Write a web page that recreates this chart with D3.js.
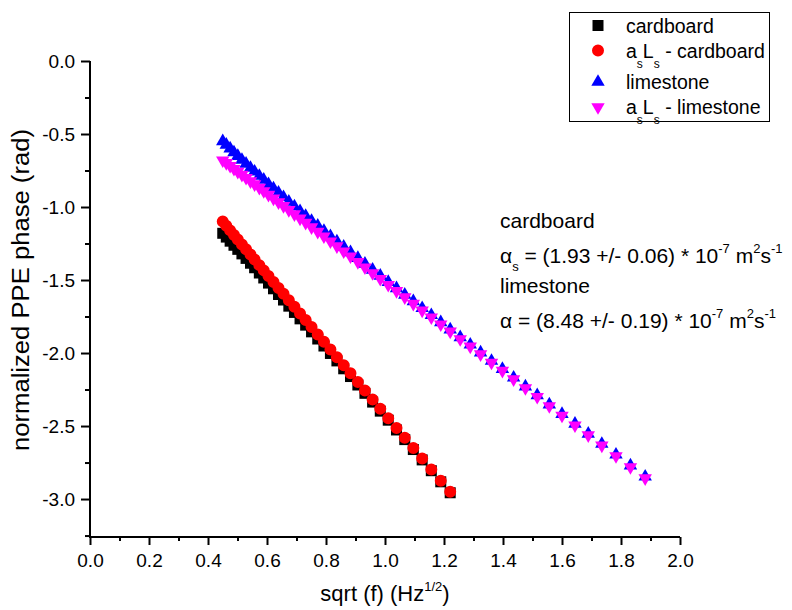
<!DOCTYPE html>
<html lang="en">
<head>
  <meta charset="utf-8">
  <title>PPE phase vs sqrt(f)</title>
  <script src="https://d3js.org/d3.v7.min.js"></script>
  <style>
    body {
      margin: 0;
      background: #fff;
    }
    svg {
      display: block;
      font-family: "Liberation Sans", Arial, Helvetica, sans-serif;
    }
    .tick text {
      font-size: 19px;
      fill: #000;
    }
    .tick line, .axis-line {
      stroke: #000;
      stroke-width: 2px;
    }
  </style>
</head>
<body>
  <div id="chart"></div>
  <script>
    // sqrt(f) values (same frequencies for all samples)
    const sqrtF = [0.450, 0.462, 0.475, 0.488, 0.501, 0.515, 0.529, 0.544, 0.558, 0.574,
                   0.589, 0.605, 0.622, 0.639, 0.656, 0.674, 0.693, 0.712, 0.731, 0.751,
                   0.772, 0.793, 0.815, 0.837, 0.860, 0.883, 0.908, 0.932, 0.958, 0.984,
                   1.011, 1.039, 1.067, 1.096, 1.126, 1.157, 1.189, 1.221, 1.255, 1.289,
                   1.324, 1.361, 1.398, 1.436, 1.476, 1.516, 1.557, 1.600, 1.644, 1.689,
                   1.735, 1.783, 1.832, 1.882];

    // normalized phase (rad)
    const cardboard = [-1.180, -1.206, -1.234, -1.262, -1.290, -1.321, -1.352, -1.385, -1.416, -1.452,
                       -1.486, -1.521, -1.560, -1.599, -1.637, -1.679, -1.722, -1.766, -1.809, -1.855,
                       -1.904, -1.952, -2.003, -2.054, -2.108, -2.161, -2.219, -2.276, -2.336, -2.398,
                       -2.460, -2.527, -2.593, -2.661, -2.732, -2.806, -2.882, -2.957];
    const asLsCardboard = [-1.100, -1.129, -1.160, -1.191, -1.222, -1.256, -1.290, -1.326, -1.359, -1.398,
                           -1.434, -1.472, -1.513, -1.554, -1.594, -1.638, -1.683, -1.729, -1.774, -1.822,
                           -1.873, -1.923, -1.976, -2.029, -2.084, -2.139, -2.199, -2.257, -2.319, -2.382,
                           -2.446, -2.514, -2.581, -2.650, -2.722, -2.797, -2.874, -2.950];
    const limestone = [-0.550, -0.574, -0.600, -0.626, -0.651, -0.678, -0.704, -0.732, -0.758, -0.787,
                       -0.814, -0.844, -0.873, -0.903, -0.933, -0.964, -0.997, -1.029, -1.061, -1.095,
                       -1.129, -1.164, -1.201, -1.236, -1.273, -1.310, -1.350, -1.389, -1.430, -1.471,
                       -1.514, -1.557, -1.601, -1.646, -1.693, -1.741, -1.790, -1.839, -1.892, -1.943,
                       -1.997, -2.054, -2.110, -2.169, -2.230, -2.290, -2.353, -2.418, -2.485, -2.553,
                       -2.623, -2.696, -2.771, -2.847];
    const asLsLimestone = [-0.680, -0.698, -0.718, -0.738, -0.758, -0.779, -0.800, -0.823, -0.844, -0.868,
                           -0.891, -0.916, -0.941, -0.967, -0.993, -1.020, -1.049, -1.078, -1.107, -1.138,
                           -1.169, -1.201, -1.235, -1.268, -1.303, -1.338, -1.376, -1.413, -1.452, -1.492,
                           -1.533, -1.575, -1.618, -1.662, -1.708, -1.755, -1.803, -1.852, -1.904, -1.955,
                           -2.008, -2.065, -2.121, -2.179, -2.240, -2.300, -2.363, -2.428, -2.495, -2.563,
                           -2.633, -2.706, -2.781, -2.857];

    const xTicks = [0, 0.2, 0.4, 0.6, 0.8, 1.0, 1.2, 1.4, 1.6, 1.8, 2.0];
    const xMinor = [0.1, 0.3, 0.5, 0.7, 0.9, 1.1, 1.3, 1.5, 1.7, 1.9];
    const yTicks = [0, -0.5, -1.0, -1.5, -2.0, -2.5, -3.0];
    const yMinor = [-0.25, -0.75, -1.25, -1.75, -2.25, -2.75, -3.25];

    const width = 792, height = 610;

    const svg = d3.select("#chart")
      .append("svg")
      .attr("width", width)
      .attr("height", height);

    const x = d3.scaleLinear().domain([0, 2]).range([90, 680]);
    const y = d3.scaleLinear().domain([-3.26, 0]).range([537, 61]);
    const fmt = d => d.toFixed(1);

    // axes (major + minor ticks)
    const xAxisG = svg.append("g").attr("transform", `translate(0,${y.range()[0]})`);
    xAxisG.call(d3.axisBottom(x).tickValues(xTicks).tickSize(8).tickPadding(9).tickFormat(fmt));
    xAxisG.append("g").call(d3.axisBottom(x).tickValues(xMinor).tickSize(4).tickFormat(""));
    xAxisG.selectAll(".domain").remove();

    const yAxisG = svg.append("g").attr("transform", `translate(${x.range()[0]},0)`);
    yAxisG.call(d3.axisLeft(y).tickValues(yTicks).tickSize(9).tickPadding(6).tickFormat(fmt));
    yAxisG.append("g").call(d3.axisLeft(y).tickValues(yMinor).tickSize(5).tickFormat(""));
    yAxisG.selectAll(".domain").remove();

    svg.append("line").attr("class", "axis-line")
      .attr("x1", x.range()[0] - 1).attr("x2", x.range()[1])
      .attr("y1", y.range()[0]).attr("y2", y.range()[0]);
    svg.append("line").attr("class", "axis-line")
      .attr("x1", x.range()[0]).attr("x2", x.range()[0])
      .attr("y1", y.range()[1]).attr("y2", y.range()[0] + 1);

    // axis titles
    const xTitle = svg.append("text")
      .attr("x", x(1.0)).attr("y", 601)
      .attr("text-anchor", "middle")
      .style("font-size", "22px");
    xTitle.append("tspan").text("sqrt (f) (Hz");
    xTitle.append("tspan").attr("dy", -10).style("font-size", "13px").text("1/2");
    xTitle.append("tspan").attr("dy", 10).text(")");

    svg.append("text")
      .attr("transform", "translate(29,290) rotate(-90)")
      .attr("text-anchor", "middle")
      .attr("textLength", 322)
      .attr("lengthAdjust", "spacingAndGlyphs")
      .style("font-size", "23px")
      .text("normalized PPE phase (rad)");

    // series
    const series = [
      {name: "cardboard", values: cardboard, color: "#000000", symbol: d3.symbolSquare, size: 121, rot: 0},
      {name: "asLs-cardboard", values: asLsCardboard, color: "#ff0000", symbol: d3.symbolCircle, size: 113, rot: 0},
      {name: "limestone", values: limestone, color: "#0000ff", symbol: d3.symbolTriangle, size: 78, rot: 0},
      {name: "asLs-limestone", values: asLsLimestone, color: "#ff00ff", symbol: d3.symbolTriangle, size: 78, rot: 180}
    ];

    series.forEach(s => {
      const path = d3.symbol().type(s.symbol).size(s.size)();
      svg.append("g")
        .selectAll("path")
        .data(s.values.map((v, i) => [sqrtF[i], v]))
        .join("path")
        .attr("d", path)
        .attr("fill", s.color)
        .attr("transform", d => `translate(${x(d[0])},${y(d[1])}) rotate(${s.rot})`);
    });

    // legend
    const legend = svg.append("g");
    legend.append("rect")
      .attr("x", 569.5).attr("y", 12.5)
      .attr("width", 200).attr("height", 109)
      .attr("fill", "#fff").attr("stroke", "#000").attr("stroke-width", 1);

    const legendRows = [
      {y: 25.5, text: [["cardboard", 0]]},
      {y: 50.5, text: [["a", 0], ["s", 1], ["L", 0], ["s", 1], [" - cardboard", 0]]},
      {y: 82, text: [["limestone", 0]]},
      {y: 107, text: [["a", 0], ["s", 1], ["L", 0], ["s", 1], [" - limestone", 0]]}
    ];
    legendRows.forEach((row, i) => {
      const s = series[i];
      legend.append("path")
        .attr("d", d3.symbol().type(s.symbol).size(s.size)())
        .attr("fill", s.color)
        .attr("transform", `translate(598,${row.y}) rotate(${s.rot})`);
      const t = legend.append("text")
        .attr("x", 626).attr("y", row.y + 7)
        .style("font-size", "19.5px");
      let sub = 0;
      row.text.forEach(([str, isSub]) => {
        const dy = isSub ? (sub ? 0 : 10) : (sub ? -10 : 0);
        sub = isSub;
        t.append("tspan").attr("dy", dy)
          .style("font-size", isSub ? "12px" : null)
          .text(str);
      });
    });

    // annotation
    const note = svg.append("g").style("font-size", "21px");
    note.append("text").attr("x", 500).attr("y", 228).text("cardboard");
    const l2 = note.append("text").attr("x", 500).attr("y", 263);
    l2.append("tspan").text("\u03b1");
    l2.append("tspan").attr("dy", 8).style("font-size", "13px").text("s");
    l2.append("tspan").attr("dy", -8).text(" = (1.93 +/- 0.06) * 10");
    l2.append("tspan").attr("dy", -10).style("font-size", "13px").text("-7");
    l2.append("tspan").attr("dy", 10).text(" m");
    l2.append("tspan").attr("dy", -10).style("font-size", "13px").text("2");
    l2.append("tspan").attr("dy", 10).text("s");
    l2.append("tspan").attr("dy", -10).style("font-size", "13px").text("-1");
    note.append("text").attr("x", 500).attr("y", 293).text("limestone");
    const l4 = note.append("text").attr("x", 500).attr("y", 328);
    l4.append("tspan").text("\u03b1 = (8.48 +/- 0.19) * 10");
    l4.append("tspan").attr("dy", -10).style("font-size", "13px").text("-7");
    l4.append("tspan").attr("dy", 10).text(" m");
    l4.append("tspan").attr("dy", -10).style("font-size", "13px").text("2");
    l4.append("tspan").attr("dy", 10).text("s");
    l4.append("tspan").attr("dy", -10).style("font-size", "13px").text("-1");
  </script>
</body>
</html>
